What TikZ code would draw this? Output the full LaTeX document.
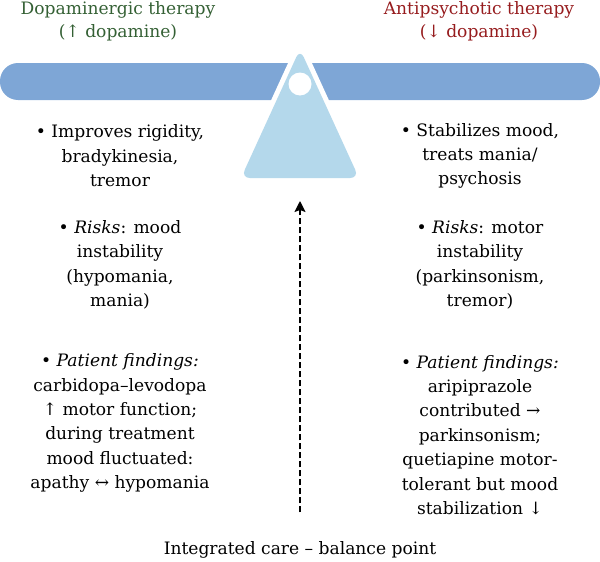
\documentclass[tikz,border=0pt]{standalone}
\usepackage{fontspec}
\setmainfont{DejaVu Serif}
\usetikzlibrary{arrows.meta,positioning}
\definecolor{beamblue}{RGB}{126,166,214}
\definecolor{pivotblue}{RGB}{180,216,235}
\definecolor{dagreen}{RGB}{52,96,52}
\definecolor{apred}{RGB}{150,28,30}
\tikzset{>=Stealth,every node/.style={font=\fontsize{17.1}{24.4}\selectfont},
  col/.style={align=center,inner sep=0pt},
  head/.style={align=center,inner sep=0pt,font=\fontsize{17.1}{23}\selectfont},
  beam/.style={fill=beamblue,rounded corners=18pt},
  pivot/.style={fill=pivotblue,preaction={draw=white,line width=10pt},rounded corners=9pt},
  flow/.style={line width=1.6pt,-{Stealth[length=11pt,width=11pt,inset=2pt]},dash pattern=on 6pt off 3pt}}
\begin{document}
\begin{tikzpicture}[x=1pt,y=-1pt]
\useasboundingbox (0,0) rectangle (600,562);
% seesaw
\fill[beam] (0,63) rectangle (600,100);
\fill[pivot] (300,49) -- (359,178) -- (241,178) -- cycle;
\fill[white] (300,84) circle (11.5);
\coordinate (pivot) at (300,177);
% therapies
\node[head,text=dagreen] (dopa) at (118,21.5) {Dopaminergic therapy\\(↑ dopamine)};
\node[head,text=apred] (anti) at (479,21.5) {Antipsychotic therapy\\(↓ dopamine)};
\node[col] (dopaA) at (120,156) {• Improves rigidity,\\bradykinesia,\\tremor};
\node[col] (dopaB) at (120,265) {• \emph{Risks}: mood\\instability\\(hypomania,\\mania)};
\node[col] (dopaC) at (120,423) {• \emph{Patient findings:}\\carbidopa–levodopa\\↑ motor function;\\during treatment\\mood fluctuated:\\apathy ↔ hypomania};
\node[col] (antiA) at (480,156) {• Stabilizes mood,\\treats mania/\\psychosis};
\node[col] (antiB) at (480,265) {• \emph{Risks}: motor\\instability\\(parkinsonism,\\tremor)};
\node[col] (antiC) at (480,435) {• \emph{Patient findings:}\\aripiprazole\\contributed →\\parkinsonism;\\quetiapine motor-\\tolerant but mood\\stabilization ↓};
% balance point
\node[inner sep=0pt] (care) at (300,550) {Integrated care – balance point};
\draw[flow] ([yshift=29pt]care.north) -- ([yshift=-24pt]pivot);
\end{tikzpicture}
\end{document}
